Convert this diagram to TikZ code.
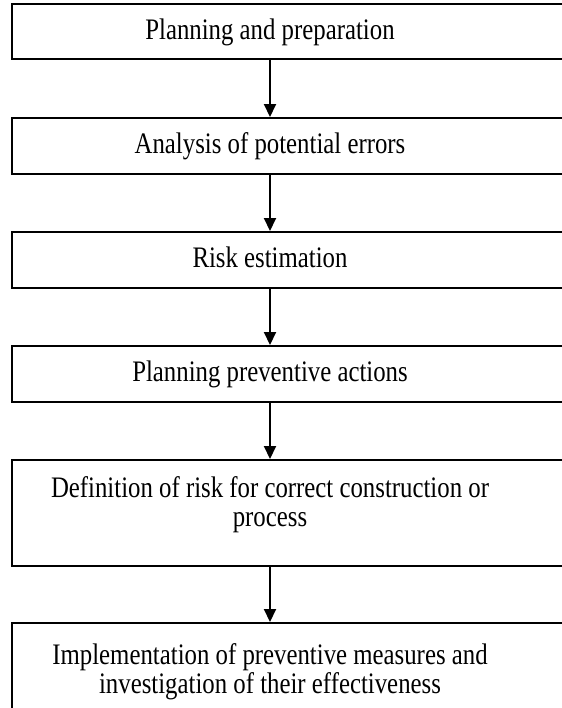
\documentclass[tikz,border=0pt]{standalone}
\usepackage{fontspec}
\setmainfont{Liberation Serif}
\usepackage{tikz}
\usetikzlibrary{arrows.meta}
% taller type, as in the reference
\newcommand{\stagetext}[1]{\scalebox{1}[1.2]{\begin{tabular}[t]{@{}c@{}}#1\end{tabular}}}

\begin{document}
\begin{tikzpicture}[x=0.5pt,y=-0.5pt]
\tikzstyle{stage}=[draw=black,line width=1pt,rectangle,minimum width=284pt,inner sep=0pt]
\tikzstyle{caption}=[anchor=base,inner sep=0pt,font=\fontsize{12.4}{12.4}\selectfont]
\tikzstyle{flow}=[line width=1pt,-{Triangle[length=6.5pt,width=6pt]}]
\useasboundingbox (0,0) rectangle (562,708);
\clip (0,0) rectangle (562,708);
% boxes: name/centre y/height
\foreach \name/\cy/\h in {
	1/31.5/55,
	2/146/56,
	3/260/56,
	4/374/56,
	5/513/106,
	6/682/118}
	\node[stage,minimum height=\h*0.5pt] (b\name) at (296,\cy) {};
% texts
\node[caption] (t1) at (270,39) {\stagetext{Planning and preparation}};
\node[caption] (t2) at (270,153) {\stagetext{Analysis of potential errors}};
\node[caption] (t3) at (270,267) {\stagetext{Risk estimation}};
\node[caption] (t4) at (270,381) {\stagetext{Planning preventive actions}};
\node[caption] (t5) at (270,497) {\stagetext{Definition of risk for correct construction or\\process}};
\node[caption] (t6) at (270,664) {\stagetext{Implementation of preventive measures and\\investigation of their effectiveness}};
% arrows
\foreach \a/\b in {1/2,2/3,3/4,4/5,5/6}
	\draw[flow] (b\a.south -| t\a) -- (b\b.north -| t\a);
\end{tikzpicture}
\end{document}
